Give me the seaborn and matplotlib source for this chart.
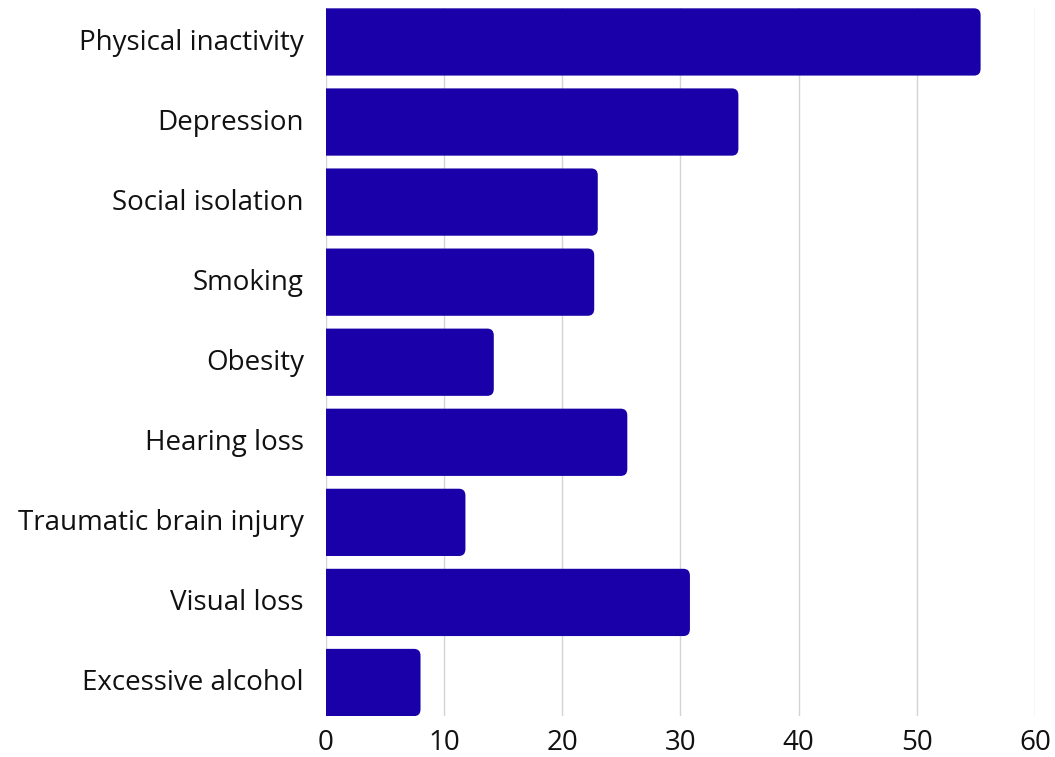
import pandas as pd
import seaborn as sns
import matplotlib.pyplot as plt
import matplotlib.transforms as mtransforms
from matplotlib.path import Path
from matplotlib.patches import PathPatch

factors = ['Physical inactivity', 'Depression', 'Social isolation', 'Smoking', 'Obesity',
           'Hearing loss', 'Traumatic brain injury', 'Visual loss', 'Excessive alcohol']
values = [55.4, 34.9, 23.0, 22.7, 14.2, 25.5, 11.8, 30.8, 8.0]

bar_color = '#1900a8'

sns.set_theme(style='white')
plt.rcParams['font.family'] = ['Open Sans', 'DejaVu Sans']

df = pd.DataFrame({'factor': factors, 'value': values})

fig = plt.figure(figsize=(10.55, 7.57), dpi=100)
ax = fig.add_axes([0.309, 0.054, 0.672, 0.935])

sns.barplot(data=df, y='factor', x='value', color=bar_color, saturation=1,
            width=0.84, orient='h', ax=ax, zorder=3)

# swap each bar for a path with rounded right-hand corners
rx, ry = 0.55, 0.085
for p in list(ax.patches):
    x0, y0 = p.get_x(), p.get_y()
    x1, y1 = x0 + p.get_width(), y0 + p.get_height()
    verts = [(x0, y0), (x1 - rx, y0), (x1, y0), (x1, y0 + ry),
             (x1, y1 - ry), (x1, y1), (x1 - rx, y1), (x0, y1), (x0, y0)]
    codes = [Path.MOVETO, Path.LINETO, Path.CURVE3, Path.CURVE3,
             Path.LINETO, Path.CURVE3, Path.CURVE3, Path.LINETO, Path.CLOSEPOLY]
    ax.add_patch(PathPatch(Path(verts, codes), facecolor=bar_color,
                           edgecolor='none', zorder=3))
    p.remove()

ax.set_xlim(0, 60)
ax.set_ylim(len(factors) - 0.5 - 0.08, -0.5 + 0.08)
ax.set_xticks(range(0, 61, 10))
ax.xaxis.grid(True, color='#d4d4d4', linewidth=1, zorder=0)
ax.yaxis.grid(False)
for s in ax.spines.values():
    s.set_visible(False)
ax.tick_params(axis='both', length=0, labelsize=20, colors='#111111')
ax.tick_params(axis='y', pad=16)
ax.tick_params(axis='x', pad=9)
ax.set_xlabel('')
ax.set_ylabel('')

# nudge the category labels up a little
shift = mtransforms.ScaledTranslation(0, 2 / 72, fig.dpi_scale_trans)
for lbl in ax.get_yticklabels():
    lbl.set_transform(lbl.get_transform() + shift)

plt.savefig('out.png', dpi=100)
plt.close()
